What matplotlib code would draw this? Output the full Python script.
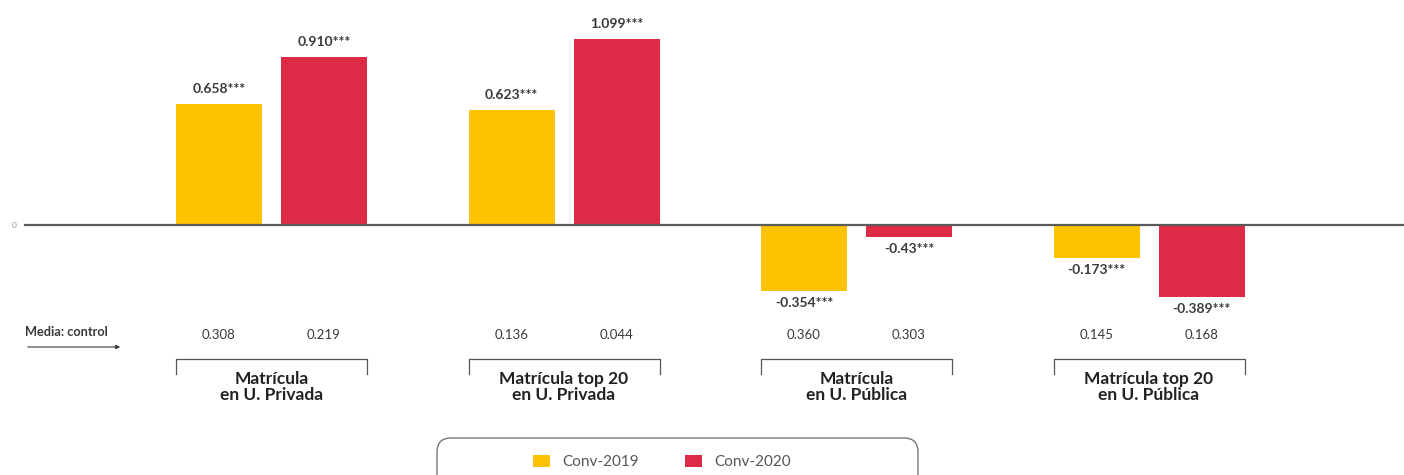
import numpy as np
import matplotlib.pyplot as plt
from matplotlib.patches import FancyBboxPatch
from matplotlib.transforms import IdentityTransform

# datos
grupos = ['Matrícula\nen U. Privada', 'Matrícula top 20\nen U. Privada',
          'Matrícula\nen U. Pública', 'Matrícula top 20\nen U. Pública']
conv_2019 = [0.658, 0.623, -0.354, -0.173]
conv_2020 = [0.910, 1.01, -0.06, -0.389]   # alturas
etiq_2019 = ['0.658***', '0.623***', '-0.354***', '-0.173***']
etiq_2020 = ['0.910***', '1.099***', '-0.43***', '-0.389***']
media_2019 = ['0.308', '0.136', '0.360', '0.145']
media_2020 = ['0.219', '0.044', '0.303', '0.168']

AMARILLO = '#FDC300'
ROJO = '#DD2A46'
GRIS = '#3a3a3a'

plt.rcParams['font.family'] = ['Lato', 'DejaVu Sans']

W, H = 1404, 475
fig = plt.figure(figsize=(W / 100, H / 100), dpi=100)
ax = fig.add_axes([0, 0, 1, 1])

paso = 292.5          # px entre grupos
x0 = 271.5            # centro del primer grupo
ppu = 185.0           # px por unidad
y0 = 225.5            # linea cero desde arriba
ax.set_xlim(-x0 / paso, (W - x0) / paso)
ax.set_ylim(-(H - y0) / ppu, y0 / ppu)
ax.axis('off')

x = np.arange(len(grupos))
ancho = 86 / paso
off = 52.5 / paso

b1 = ax.bar(x - off, conv_2019, ancho, color=AMARILLO, label='Conv-2019', zorder=2)
b2 = ax.bar(x + off, conv_2020, ancho, color=ROJO, label='Conv-2020', zorder=2)

ax.axhline(0, xmin=25 / W, xmax=1, color='#5a5a5a', lw=1.6, zorder=3)
ax.text(-x0 / paso + 12 / paso, 0, '0', ha='left', va='center', fontsize=6, color='#999999')

# etiquetas de valores
for barras, etiquetas in [(b1, etiq_2019), (b2, etiq_2020)]:
    for b, t in zip(barras, etiquetas):
        h = b.get_height()
        cx = b.get_x() + b.get_width() / 2
        if h >= 0:
            ax.text(cx, h + 15 / ppu, t, ha='center', va='center', fontsize=10,
                    fontweight='bold', color=GRIS)
        else:
            ax.text(cx, h - 12 / ppu, t, ha='center', va='center', fontsize=10,
                    fontweight='bold', color=GRIS)

# media control
y_media = -(335 - y0) / ppu
for i in range(len(grupos)):
    ax.text(x[i] - off, y_media, media_2019[i], ha='center', va='center', fontsize=9.5, color=GRIS)
    ax.text(x[i] + off, y_media, media_2020[i], ha='center', va='center', fontsize=9.5, color=GRIS)

xl = -x0 / paso
ax.text(xl + 25 / paso, -(332 - y0) / ppu, 'Media: control', ha='left', va='center',
        fontsize=9.2, fontweight='bold', color=GRIS)
ax.annotate('', xy=(xl + 123 / paso, -(347 - y0) / ppu), xytext=(xl + 25 / paso, -(347 - y0) / ppu),
            arrowprops=dict(arrowstyle='-|>', color=GRIS, lw=0.8, mutation_scale=6))

# corchetes y nombres de grupo
y_top = -(359 - y0) / ppu
y_bot = -(374 - y0) / ppu
for i, g in enumerate(grupos):
    izq = x[i] - off - ancho / 2
    der = x[i] + off + ancho / 2
    ax.plot([izq, izq, der, der], [y_bot, y_top, y_top, y_bot], color='#555555', lw=0.9)
    ax.text(x[i], -(387 - y0) / ppu, g, ha='center', va='center', fontsize=12.5,
            fontweight='bold', color='#222222', linespacing=1.0)

# leyenda
caja = FancyBboxPatch((437, -30), 481, H - 438 + 30,
                      boxstyle='round,pad=0,rounding_size=14', transform=IdentityTransform(),
                      fill=False, edgecolor='#777777', lw=1.0)
fig.patches.append(caja)
leg = ax.legend(handles=[b1, b2], loc='center', bbox_to_anchor=(662 / W, 1 - 462 / H),
                bbox_transform=fig.transFigure, ncol=2, frameon=False, fontsize=11,
                handlelength=1.1, handleheight=0.85, columnspacing=3.0, handletextpad=0.8)
for t in leg.get_texts():
    t.set_color('#555555')

fig.savefig('out.png', dpi=100)
